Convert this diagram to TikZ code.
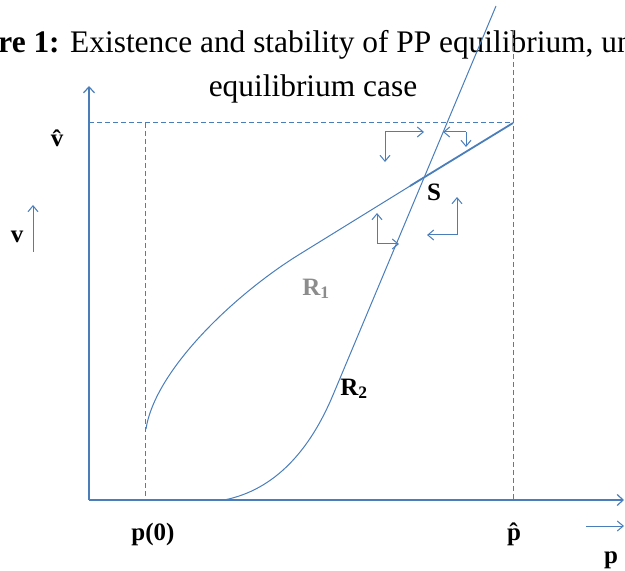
\documentclass[tikz,border=0pt]{standalone}
\usepackage{fontspec}
\setmainfont{Liberation Serif}
\usepackage{tikz}
\usetikzlibrary{arrows.meta}
\definecolor{plotblue}{RGB}{74,126,187}
\definecolor{labelgray}{RGB}{140,140,140}
\tikzset{
  axisline/.style={draw=plotblue, line width=0.6pt,
    -{Straight Barb[length=3pt, width=5.5pt]}},
  guide/.style={draw=plotblue, line width=0.5pt, dash pattern=on 2.5pt off 1.5pt},
  curve/.style={draw=plotblue, line width=0.5pt},
  flow/.style={draw=plotblue, line width=0.5pt,
    -{Straight Barb[length=3pt, width=5pt]}},
  lbl/.style={inner sep=0pt, font=\fontsize{12.5}{14}\selectfont\bfseries},
  titletext/.style={inner sep=0pt, font=\fontsize{15.7}{18}\selectfont},
}

\begin{document}
\begin{tikzpicture}[x=0.5pt, y=-0.5pt]
  \useasboundingbox (0,0) rectangle (625,571);
  \clip (0,0) rectangle (625,571);

  % caption, cut at both sides
  \node[titletext, anchor=base west] (title1) at (-2,53)
    {\textbf{re 1:} Existence and stability of PP equilibrium, un};
  \node[titletext, anchor=base] (title2) at (313,97) {equilibrium case};

  % axes
  \coordinate (O)    at (89,500);
  \coordinate (ytop) at (89,86);
  \coordinate (xend) at (624,500);
  \draw[axisline] (O) -- (ytop);
  \draw[axisline] (O) -- (xend);

  % dashed guides
  \coordinate (vhat)    at (89,123);
  \coordinate (corner)  at (513,123);
  \coordinate (phattop) at (513,30);
  \coordinate (phat)    at (513,500);
  \coordinate (p0top)   at (145,123);
  \coordinate (p0)      at (145,500);
  \draw[guide] (vhat) -- (corner);
  \draw[guide] (phattop) -- (phat);
  \draw[guide] (p0top) -- (p0);

  % R1 curve
  \coordinate (r1start) at (146,429);
  \coordinate (r1bend)  at (300,254);
  \coordinate (r1thick) at (410,186);
  \coordinate (S)       at (423,178);
  \draw[curve] (r1start) .. controls (155,370) and (235,294) .. (r1bend) -- (S);
  \draw[curve, line width=0.9pt] (r1thick) -- (corner);

  % R2 curve
  \coordinate (r2start) at (224,500);
  \coordinate (r2bend)  at (333,395);
  \coordinate (r2top)   at (496,6);
  \draw[curve] (r2start) .. controls (275,490) and (310,450) .. (r2bend) -- (r2top);

  % direction arrows round S
  \coordinate (ul)  at (385,132);
  \coordinate (ulr) at (424,132);
  \coordinate (uld) at (385,162);
  \coordinate (ur)  at (466,132);
  \coordinate (url) at (443,132);
  \coordinate (urd) at (466,147);
  \coordinate (ll)  at (377,244);
  \coordinate (llu) at (377,213);
  \coordinate (llr) at (399,244);
  \coordinate (lr)  at (457,235);
  \coordinate (lru) at (457,197);
  \coordinate (lrl) at (427,235);
  \draw[flow] (ul) -- (ulr);
  \draw[flow] (ul) -- (uld);
  \draw[flow] (ur) -- (url);
  \draw[flow] (ur) -- (urd);
  \draw[flow] (ll) -- (llu);
  \draw[flow] (ll) -- (llr);
  \draw[flow] (lr) -- (lru);
  \draw[flow] (lr) -- (lrl);

  % small direction arrows for the variables
  \coordinate (vlow)  at (33,252);
  \coordinate (vhigh) at (33,205);
  \coordinate (pleft) at (586,526);
  \coordinate (pright) at (624,526);
  \draw[flow] (vlow) -- (vhigh);
  \draw[flow] (pleft) -- (pright);

  % labels
  \node[lbl, anchor=base] (vhatlbl) at (57,147) {\^v};
  \node[lbl, anchor=base] (vlbl)    at (17,243) {v};
  \node[lbl, anchor=base] (p0lbl)   at (153,540) {p(0)};
  \node[lbl, anchor=base] (phatlbl) at (514,540) {\^p};
  \node[lbl, anchor=base] (plbl)    at (611,563) {p};
  \node[lbl, anchor=base] (slbl)    at (434,201) {S};
  \node[lbl, anchor=base west, text=labelgray] (r1lbl) at (302,295) {R\textsubscript{1}};
  \node[lbl, anchor=base west] (r2lbl) at (340,395) {R\textsubscript{2}};
\end{tikzpicture}
\end{document}
